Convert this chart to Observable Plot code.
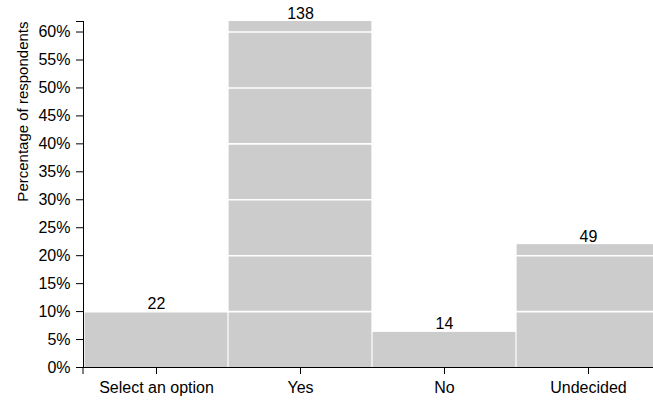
<!DOCTYPE html>
<html>
<head>
<meta charset="utf-8">
<script src="https://cdn.jsdelivr.net/npm/d3@7"></script>
<script src="https://cdn.jsdelivr.net/npm/@observablehq/plot@0.6"></script>
<style>
  html, body { margin: 0; padding: 0; background: #fff; overflow: hidden; }
  #chart svg { display: block; }
</style>
</head>
<body>
<div id="chart"></div>
<script>
const categories = ["Select an option", "Yes", "No", "Undecided"];
const counts = [22, 138, 14, 49];
const yTicks = [0, 0.05, 0.10, 0.15, 0.20, 0.25, 0.30, 0.35, 0.40, 0.45, 0.50, 0.55, 0.60];
const gridLines = [0.10, 0.20, 0.30, 0.40, 0.50, 0.60];
const yLabel = "Percentage of respondents";

const total = d3.sum(counts);
const data = categories.map((c, i) => ({category: c, count: counts[i], pct: counts[i] / total}));
const yMax = d3.max(data, d => d.pct);

const plot = Plot.plot({
  width: 653,
  height: 400,
  marginLeft: 83,
  marginRight: 0,
  marginTop: 21,
  marginBottom: 33,
  style: {fontFamily: "Helvetica, Arial, 'Liberation Sans', sans-serif", fontSize: "16px", color: "#000", background: "#fff"},
  x: {domain: categories, padding: 0, label: null, range: [83, 661]},
  y: {domain: [0, yMax], nice: false, label: null},
  marks: [
    Plot.barY(data, {x: "category", y: "pct", fill: "#cccccc", insetLeft: 0.6, insetRight: 0.6}),
    Plot.ruleY(gridLines, {stroke: "#fff", strokeWidth: 1.6}),
    Plot.text(data, {x: "category", y: "pct", text: d => String(d.count), lineAnchor: "bottom", dy: -3, fontSize: 16, fill: "#000"}),
    Plot.axisY({ticks: yTicks, tickFormat: d3.format(".0%"), tickSize: 7, tickPadding: 6, label: null, stroke: "#000", fontSize: 16}),
    Plot.axisY({ticks: [yMax], tickFormat: () => "", tickSize: 7, label: null, stroke: "#000"}),
    Plot.axisX({tickSize: 7, tickPadding: 7, label: null, stroke: "#000", fontSize: 16}),
    Plot.frame({anchor: "left", stroke: "#000"}),
    Plot.frame({anchor: "bottom", stroke: "#000"}),
    Plot.text([yLabel], {frameAnchor: "top-left", rotate: -90, textAnchor: "end", dx: -66, fontSize: 15, fill: "#000"})
  ]
});

// outer tick at the left end of the x axis, positioned from Plot's scales
const xr = plot.scale("x").range;
const yr = plot.scale("y").range;
d3.select(plot).append("line")
  .attr("x1", xr[0]).attr("x2", xr[0])
  .attr("y1", yr[0]).attr("y2", yr[0] + 7)
  .attr("stroke", "#000");

document.getElementById("chart").appendChild(plot);
</script>
</body>
</html>
